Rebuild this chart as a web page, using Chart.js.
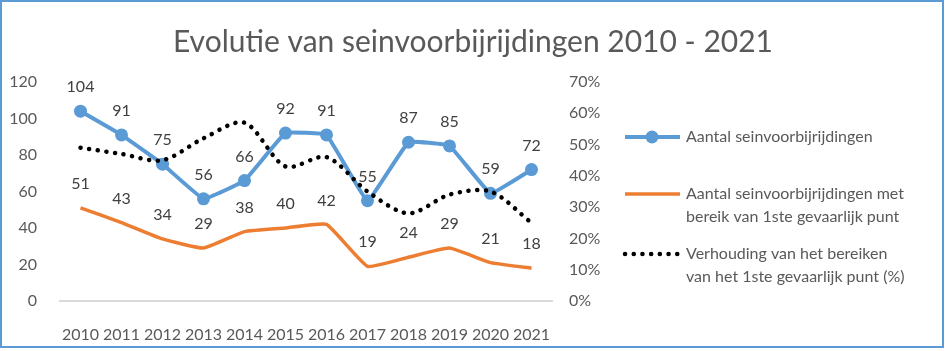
<!DOCTYPE html>
<html>
<head>
<meta charset="utf-8">
<script src="https://cdn.jsdelivr.net/npm/chart.js@4"></script>
<style>
  body { margin: 0; background: #fff; }
  #wrap { width: 946px; height: 351px; }
</style>
</head>
<body>
<div id="wrap"><canvas id="myChart"></canvas></div>
<script>
const chartTitle = "Evolutie van seinvoorbijrijdingen 2010 - 2021";
const years = ["2010", "2011", "2012", "2013", "2014", "2015", "2016", "2017", "2018", "2019", "2020", "2021"];
const totalPassings = [104, 91, 75, 56, 66, 92, 91, 55, 87, 85, 59, 72];
const dangerPassings = [51, 43, 34, 29, 38, 40, 42, 19, 24, 29, 21, 18];
const dangerRatio = [49, 47, 45, 52, 57, 43, 46, 35, 28, 34, 35, 25];

const labelTotal = ["Aantal seinvoorbijrijdingen"];
const labelDanger = ["Aantal seinvoorbijrijdingen met", "bereik van 1ste gevaarlijk punt"];
const labelRatio = ["Verhouding van het bereiken", "van het 1ste gevaarlijk punt (%)"];

const FONT = "Lato, 'Open Sans', sans-serif";
const TEXT = "#595959";
const BLUE = "#5B9BD5";
const ORANGE = "#ED7D31";

// title, value labels, legend and frame drawn by hand
const extras = {
  id: 'extras',
  afterDraw(chart) {
    const ctx = chart.ctx;
    ctx.save();

    ctx.strokeStyle = "#5B9BD5";
    ctx.lineWidth = 2;
    ctx.strokeRect(1, 1, 942, 346);

    ctx.fillStyle = TEXT;
    ctx.font = "30px " + FONT;
    ctx.textAlign = "center";
    ctx.textBaseline = "middle";
    ctx.fillText(chartTitle, 473, 42);

    ctx.font = "16px " + FONT;
    ctx.fillStyle = "#404040";
    [0, 1].forEach(di => {
      const meta = chart.getDatasetMeta(di);
      const vals = chart.data.datasets[di].data;
      meta.data.forEach((pt, i) => {
        ctx.fillText(vals[i], pt.x, pt.y - 24);
      });
    });

    // legend
    const rows = [
      {ds: 0, y: 137},
      {ds: 1, y: 194},
      {ds: 2, y: 254}
    ];
    ctx.textAlign = "left";
    rows.forEach(r => {
      const ds = chart.data.datasets[r.ds];
      ctx.strokeStyle = ds.borderColor;
      ctx.lineWidth = ds.borderWidth;
      ctx.lineCap = ds.borderCapStyle || "butt";
      ctx.setLineDash(ds.borderDash || []);
      ctx.beginPath();
      ctx.moveTo(625, r.y);
      ctx.lineTo(680, r.y);
      ctx.stroke();
      ctx.setLineDash([]);
      if (ds.pointRadius > 0) {
        ctx.fillStyle = ds.borderColor;
        ctx.beginPath();
        ctx.arc(652, r.y, ds.pointRadius, 0, Math.PI * 2);
        ctx.fill();
      }
      ctx.fillStyle = TEXT;
      ds.label.forEach((line, li) => {
        ctx.fillText(line, 686, r.y + li * 23);
      });
    });
    ctx.restore();
  }
};

new Chart("myChart", {
  type: "line",
  data: {
    labels: years,
    datasets: [{
      label: labelTotal,
      data: totalPassings,
      yAxisID: "y",
      borderColor: BLUE,
      backgroundColor: BLUE,
      borderWidth: 4,
      pointRadius: 6.5,
      pointBorderWidth: 0,
      tension: 0.08,
      fill: false,
      order: 1
    }, {
      label: labelDanger,
      data: dangerPassings,
      yAxisID: "y",
      borderColor: ORANGE,
      borderWidth: 3.5,
      pointRadius: 0,
      tension: 0.12,
      fill: false,
      order: 2
    }, {
      label: labelRatio,
      data: dangerRatio,
      yAxisID: "y1",
      borderColor: "#000000",
      borderWidth: 4.5,
      borderDash: [0.1, 8.6],
      borderCapStyle: "round",
      pointRadius: 0,
      tension: 0.3,
      fill: false,
      order: 0
    }]
  },
  options: {
    responsive: true,
    maintainAspectRatio: false,
    animation: false,
    devicePixelRatio: 1,
    layout: { padding: { top: 82, left: 0, right: 314, bottom: 0 } },
    plugins: {
      legend: { display: false },
      title: { display: false },
      tooltip: { enabled: false }
    },
    scales: {
      x: {
        offset: true,
        grid: { display: false },
        border: { color: "#d9d9d9", width: 2 },
        ticks: { color: TEXT, font: { family: FONT, size: 16 }, padding: 16, maxRotation: 0, autoSkip: false },
        afterFit: s => { s.height = 50; }
      },
      y: {
        position: "left",
        min: 0, max: 120,
        grid: { display: false },
        border: { display: false },
        ticks: { stepSize: 20, color: TEXT, font: { family: FONT, size: 16 }, padding: 15 },
        afterFit: s => { s.width = 60; }
      },
      y1: {
        position: "right",
        min: 0, max: 70,
        grid: { display: false },
        border: { display: false },
        ticks: { stepSize: 10, color: TEXT, font: { family: FONT, size: 16 }, padding: 9, callback: v => v + "%" },
        afterFit: s => { s.width = 80; }
      }
    }
  },
  plugins: [extras]
});
</script>
</body>
</html>
